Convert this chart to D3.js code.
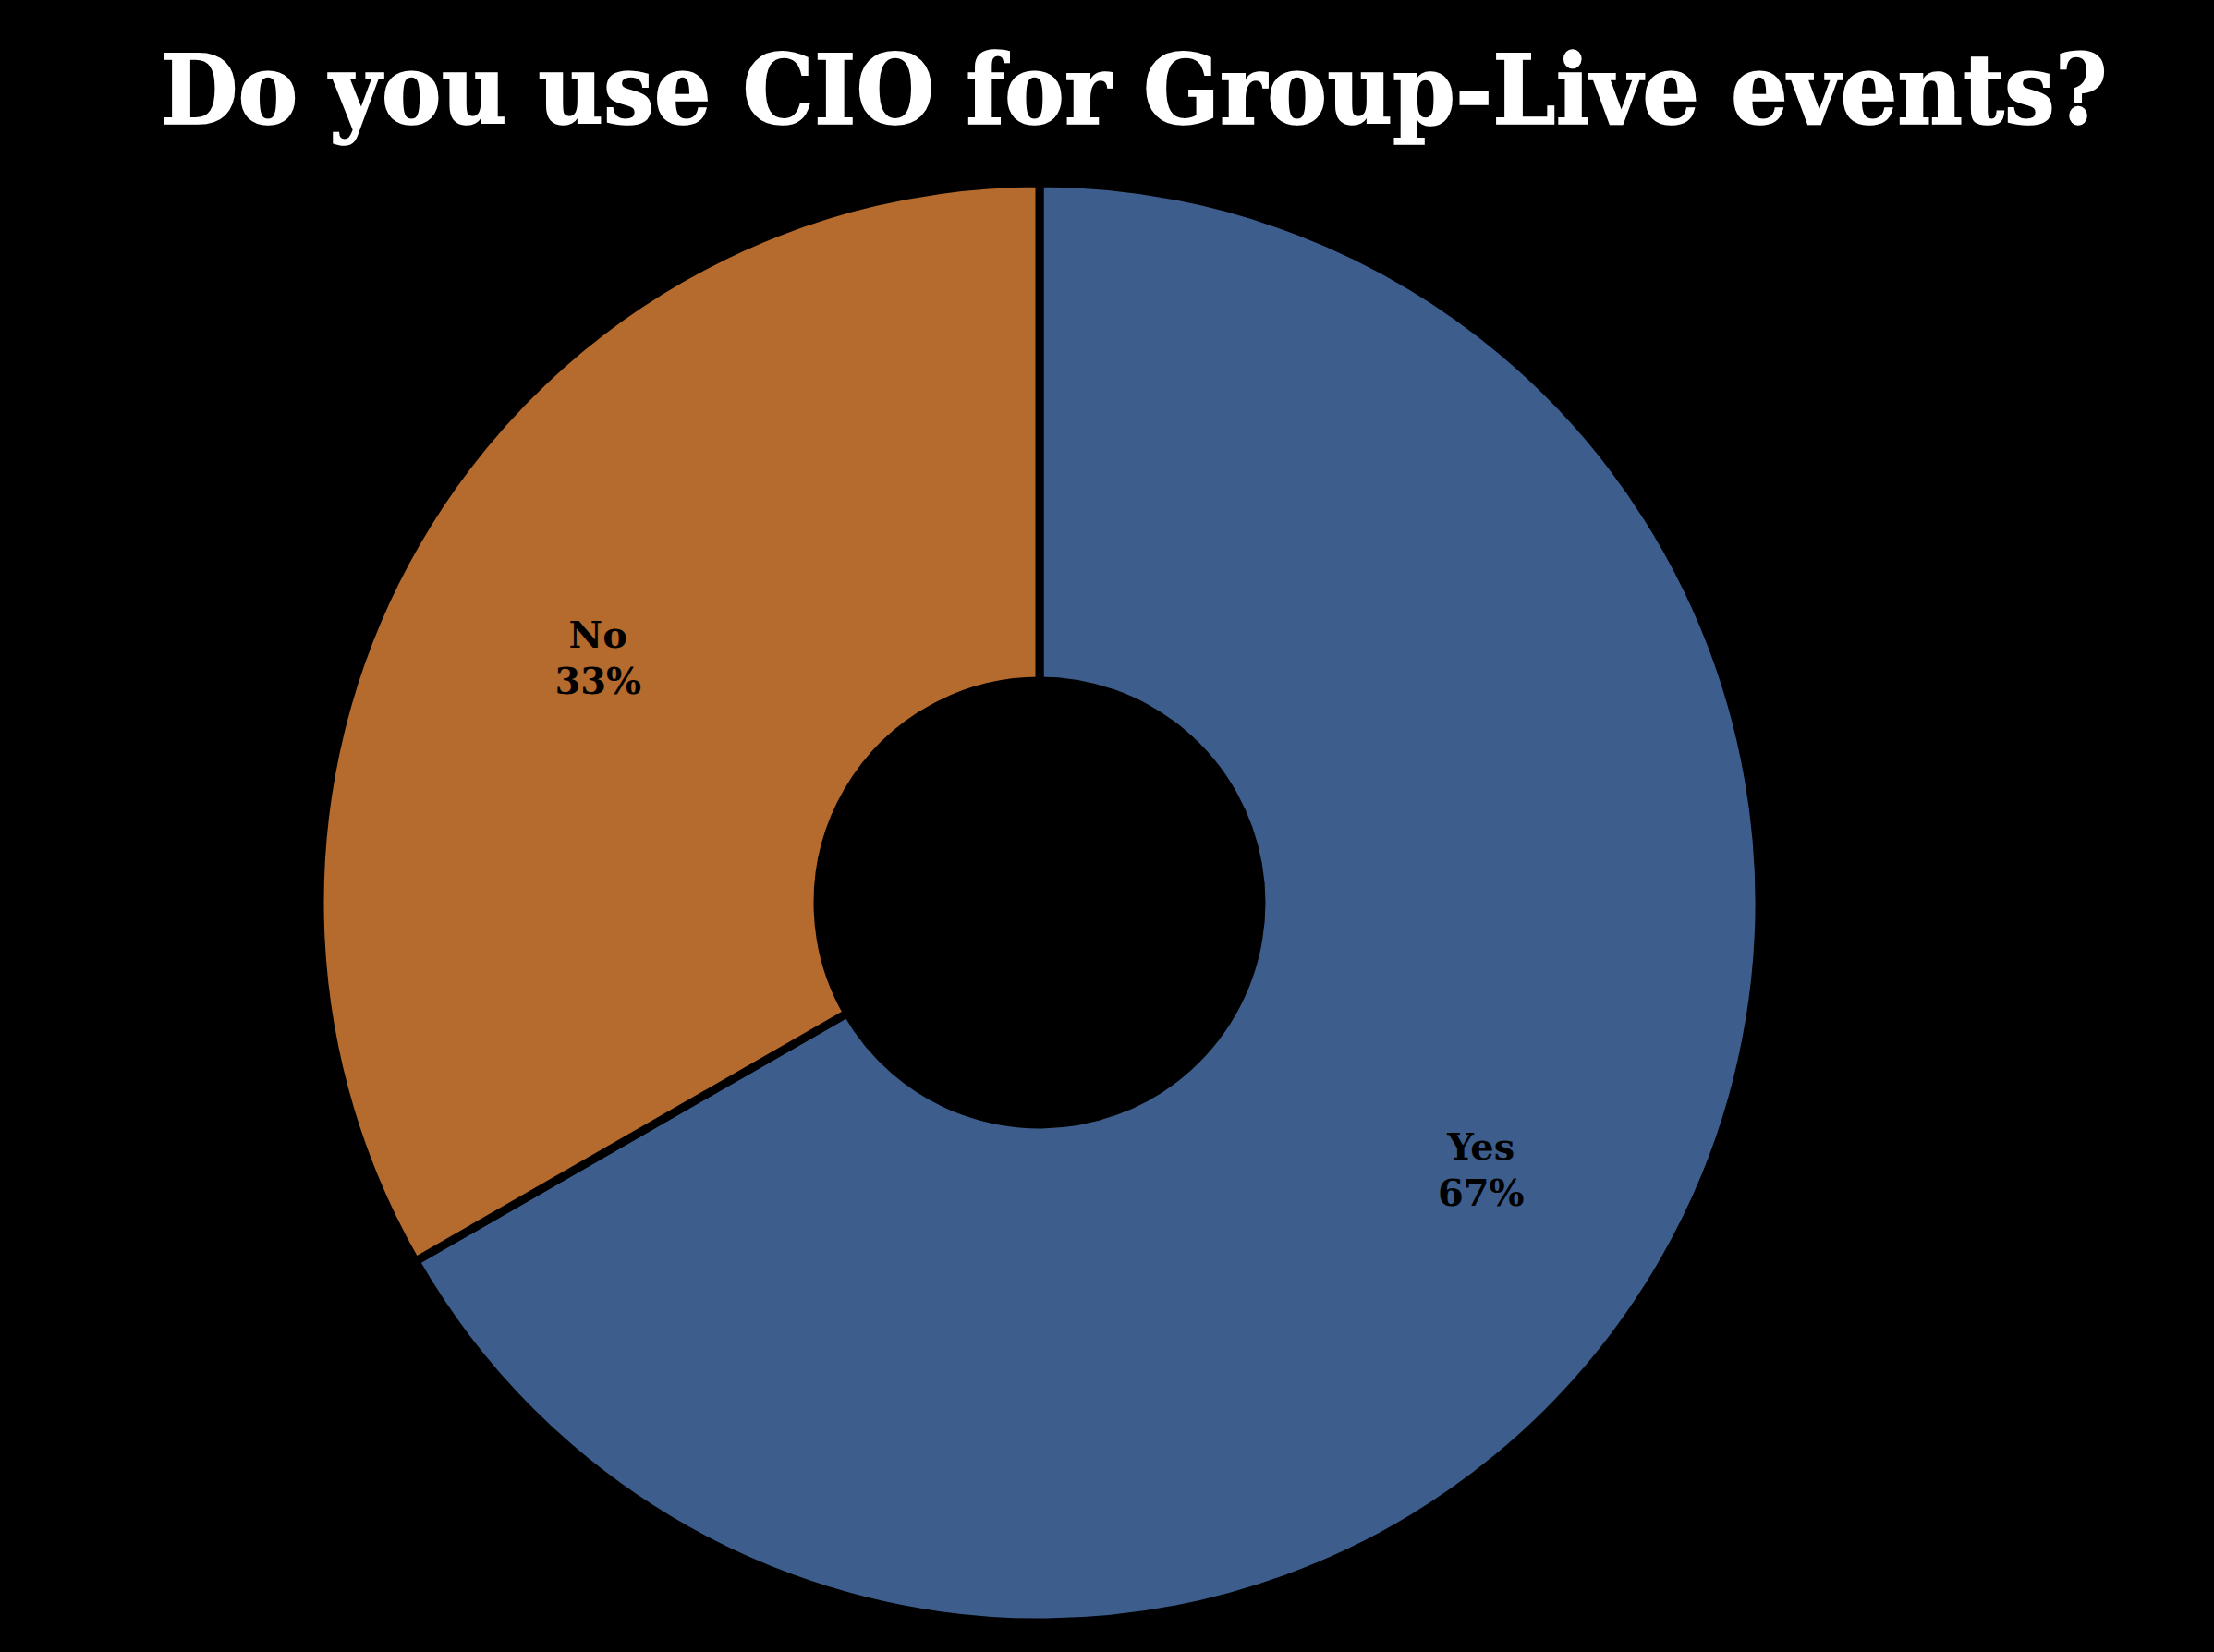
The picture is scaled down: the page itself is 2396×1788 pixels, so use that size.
<!DOCTYPE html>
<html>
<head>
<meta charset="utf-8">
<script src="https://cdn.jsdelivr.net/npm/d3@7"></script>
<style>
  html, body { margin: 0; padding: 0; background: #000; }
  svg { display: block; }
</style>
</head>
<body>
<svg width="2396" height="1788"></svg>
<script>
// data
var categories = ["Yes", "No"];
var shares = [66.7, 33.3];
var labels = ["67%", "33%"];
var colors = ["#3d5e8c", "#b56b2e"];

var svg = d3.select("svg"),
    width = +svg.attr("width"),
    height = +svg.attr("height"),
    cx = 1125, cy = 977,
    outerR = 779, innerR = 240, labelR = 552;

svg.append("rect").attr("width", width).attr("height", height).attr("fill", "#000");

// title: measure it, then squeeze it horizontally to the width it takes in the picture
var title = svg.append("text")
    .attr("text-anchor", "middle")
    .attr("font-family", "'DejaVu Serif', 'Liberation Serif', serif")
    .attr("font-weight", "bold")
    .attr("font-size", 104)
    .attr("fill", "#fff")
    .attr("stroke", "#fff")
    .attr("stroke-width", 1.5)
    .text("Do you use CIO for Group-Live events?");
var tw = title.node().getComputedTextLength();
title.attr("transform", "translate(1227,134) scale(" + (2108 / tw) + ",1)");

var pie = d3.pie().sort(null).value(function(d) { return d; });
var arcs = pie(shares);

var arc = d3.arc().innerRadius(innerR).outerRadius(outerR);
var labelArc = d3.arc().innerRadius(labelR).outerRadius(labelR);

var g = svg.append("g").attr("transform", "translate(" + cx + "," + cy + ")");

g.selectAll("path")
  .data(arcs)
  .enter().append("path")
    .attr("d", arc)
    .attr("fill", function(d, i) { return colors[i]; })
    .attr("stroke", "#000")
    .attr("stroke-width", 9)
    .attr("stroke-linejoin", "miter");

var lab = g.selectAll(".lab")
  .data(arcs)
  .enter().append("text")
    .attr("class", "lab")
    .attr("transform", function(d) { return "translate(" + labelArc.centroid(d) + ")"; })
    .attr("text-anchor", "middle")
    .attr("font-family", "'DejaVu Serif', 'Liberation Serif', serif")
    .attr("font-weight", "bold")
    .attr("font-size", 40)
    .attr("fill", "#000");

lab.append("tspan")
    .attr("x", 0)
    .attr("y", 1)
    .text(function(d, i) { return categories[i]; });

lab.append("tspan")
    .attr("x", 0)
    .attr("y", 51)
    .text(function(d, i) { return labels[i]; });
</script>
</body>
</html>
